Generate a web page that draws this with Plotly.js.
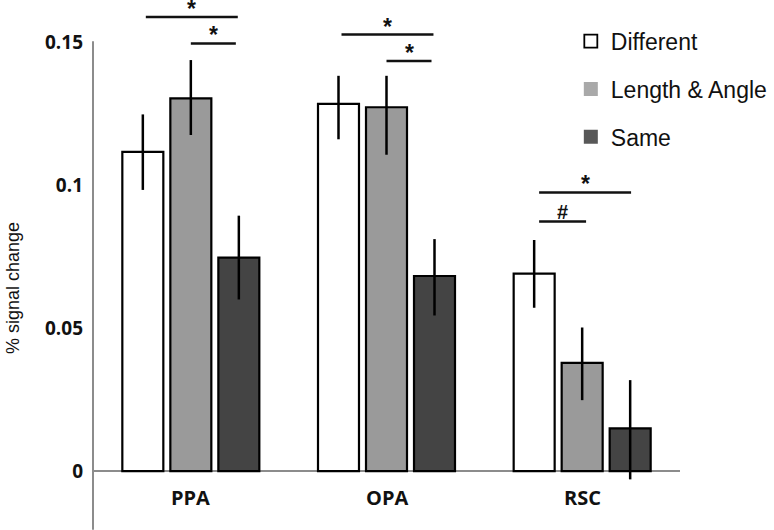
<!DOCTYPE html>
<html>
<head>
<meta charset="utf-8">
<script src="https://cdn.plot.ly/plotly-3.0.1.min.js"></script>
<style>
  html, body { margin: 0; padding: 0; background: #fff; }
  #chart { width: 774px; height: 530px; }
</style>
</head>
<body>
<div id="chart"></div>
<script>
// regions on the x axis
var regions = ['PPA', 'OPA', 'RSC']

// mean % signal change per condition
var different = [0.1116, 0.1284, 0.0690]
var lengthAngle = [0.1303, 0.1272, 0.0378]
var same = [0.0746, 0.0682, 0.0149]

// error bars (upper / lower)
var diffErrUp = [0.0131, 0.0098, 0.0118]
var diffErrDown = [0.0133, 0.0124, 0.0119]
var laErrUp = [0.0134, 0.0110, 0.0124]
var laErrDown = [0.0128, 0.0166, 0.0130]
var sameErrUp = [0.0147, 0.0129, 0.0169]
var sameErrDown = [0.0146, 0.0138, 0.0178]

var seriesNames = ['Different', 'Length & Angle', 'Same']
var yTicks = [0, 0.05, 0.1, 0.15]
var yTickText = ['0', '0.05', '0.1', '0.15']

// significance brackets: [from x, to x, height, label]
var sigBars = [
    [-0.23, 0.24, 0.1588, '*'],
    [0.0, 0.23, 0.1495, '*'],
    [0.77, 1.24, 0.1526, '*'],
    [1.0, 1.23, 0.1434, '*'],
    [1.78, 2.25, 0.0974, '*'],
    [1.78, 2.02, 0.0873, '#']
]

var barLine = {color: '#000', width: 2.2}

function errs(up, down) {
    return {type: 'data', symmetric: false, array: up, arrayminus: down,
            color: '#000', thickness: 2.5, width: 0}
}

var data = [
    {x: regions, y: different, type: 'bar', name: seriesNames[0], showlegend: false,
     marker: {color: '#ffffff', line: barLine}, error_y: errs(diffErrUp, diffErrDown)},
    {x: regions, y: lengthAngle, type: 'bar', name: seriesNames[1], showlegend: false,
     marker: {color: '#9a9a9a', line: barLine}, error_y: errs(laErrUp, laErrDown)},
    {x: regions, y: same, type: 'bar', name: seriesNames[2], showlegend: false,
     marker: {color: '#444444', line: barLine}, error_y: errs(sameErrUp, sameErrDown)},
    // legend swatches only
    {x: [null], y: [null], type: 'scatter', mode: 'markers', name: seriesNames[0], legendgroup: 'a',
     marker: {symbol: 'square', size: 13, color: '#fff', line: {color: '#000', width: 1.8}}},
    {x: [null], y: [null], type: 'scatter', mode: 'markers', name: seriesNames[1], legendgroup: 'b',
     marker: {symbol: 'square', size: 14, color: '#a9a9a9'}},
    {x: [null], y: [null], type: 'scatter', mode: 'markers', name: seriesNames[2], legendgroup: 'c',
     marker: {symbol: 'square', size: 14, color: '#585858'}}
]

var shapes = [
    // y axis line, runs a bit below zero like the original
    {type: 'line', xref: 'paper', yref: 'y', x0: 0, x1: 0, y0: -0.0205, y1: 0.1503,
     line: {color: '#8c8c8c', width: 2}}
]
var annotations = []

sigBars.forEach(function(s) {
    shapes.push({type: 'line', xref: 'x', yref: 'y', x0: s[0], x1: s[1], y0: s[2], y1: s[2],
                 line: {color: '#111', width: 2.5}})
    annotations.push({x: (s[0] + s[1]) / 2, y: s[2], xref: 'x', yref: 'y', text: '<b>' + s[3] + '</b>',
                      showarrow: false, yanchor: 'bottom', yshift: s[3] == '#' ? -4 : -7,
                      font: {family: 'Liberation Sans, Arial', size: s[3] == '#' ? 20 : 23, color: '#111'}})
})

regions.forEach(function(r) {
    annotations.push({x: r, y: -0.0091, xref: 'x', yref: 'y', text: '<b>' + r + '</b>',
                      showarrow: false, yanchor: 'middle',
                      font: {family: 'Open Sans', size: 20, color: '#111'}})
})

// y axis title, placed near the left edge
annotations.push({x: 0, xref: 'paper', xanchor: 'center', xshift: -80, y: 0.0640, yref: 'y',
                  text: '% signal change', textangle: -90, showarrow: false,
                  font: {family: 'Liberation Sans, Arial', size: 18, color: '#111'}})

var layout = {
    width: 774,
    height: 530,
    margin: {l: 93, r: 94, t: 0, b: 0},
    paper_bgcolor: '#fff',
    plot_bgcolor: '#fff',
    barmode: 'group',
    bargap: 0.264,
    bargroupgap: 0.146,
    showlegend: true,
    legend: {x: 0.814, y: 0.963, xanchor: 'left', yanchor: 'top',
             tracegroupgap: 15, bgcolor: 'rgba(0,0,0,0)',
             font: {family: 'Liberation Sans, Arial', size: 23, color: '#111'}},
    xaxis: {range: [-0.5, 2.5], showticklabels: false, showline: false, showgrid: false,
            zeroline: false, ticks: '', fixedrange: true},
    yaxis: {range: [-0.0206, 0.1647], tickvals: yTicks, ticktext: yTickText, showline: false,
            showgrid: false, zeroline: true, zerolinecolor: '#8c8c8c', zerolinewidth: 2,
            ticks: '', ticklabelstandoff: 9, automargin: false,
            tickfont: {family: 'Open Sans', size: 19, color: '#111', weight: 'bold'}},
    shapes: shapes,
    annotations: annotations
}

Plotly.newPlot('chart', data, layout, {staticPlot: true})
</script>
</body>
</html>
